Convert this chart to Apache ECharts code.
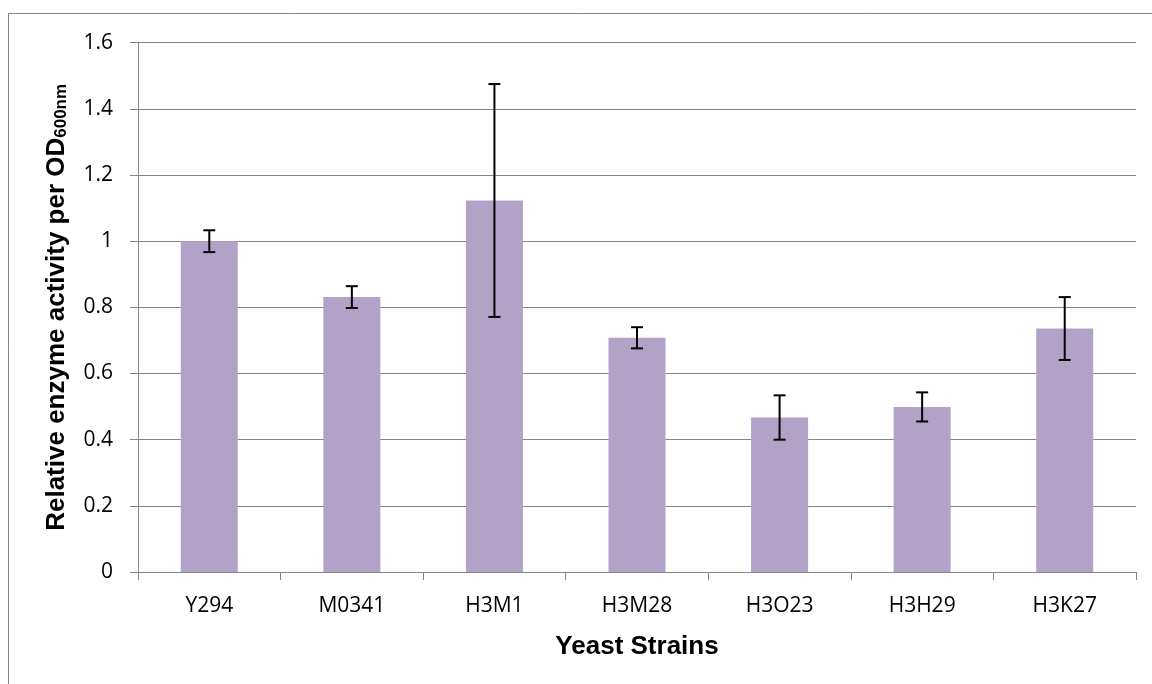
<!DOCTYPE html>
<html>
<head>
<meta charset="utf-8">
<script src="https://cdn.jsdelivr.net/npm/echarts@6/dist/echarts.min.js"></script>
<style>
html,body{margin:0;padding:0;background:#fff;}
#chart{width:1152px;height:684px;}
</style>
</head>
<body>
<div id="chart"></div>
<script>
var categories = ['Y294', 'M0341', 'H3M1', 'H3M28', 'H3O23', 'H3H29', 'H3K27'];
var activity = [1.00, 0.831, 1.123, 0.708, 0.467, 0.499, 0.736];
var errorAmount = [0.033, 0.033, 0.352, 0.032, 0.067, 0.044, 0.095];
var yTicks = [0, 0.2, 0.4, 0.6, 0.8, 1, 1.2, 1.4, 1.6];

var errorData = categories.map(function (c, i) {
  return [i, activity[i] - errorAmount[i], activity[i] + errorAmount[i]];
});

var chart = echarts.init(document.getElementById('chart'), null, {renderer: 'canvas'});
var axisGray = '#868686';
var tickFont = '"Open Sans", "Liberation Sans", sans-serif';
var titleFont = '"Liberation Sans", Arial, sans-serif';

chart.setOption({
  animation: false,
  backgroundColor: '#ffffff',
  graphic: [{
    type: 'rect',
    shape: {x: 8.5, y: 13.5, width: 1200, height: 700},
    style: {fill: 'none', stroke: axisGray, lineWidth: 1},
    silent: true,
    z: -1
  }],
  grid: {left: 138, right: 16, top: 42.7, bottom: 112, containLabel: false},
  xAxis: {
    type: 'category',
    data: categories,
    name: 'Yeast Strains',
    nameLocation: 'middle',
    nameGap: 62,
    nameTextStyle: {fontFamily: titleFont, fontWeight: 'bold', fontSize: 26, color: '#000'},
    axisLine: {lineStyle: {color: axisGray, width: 1}},
    axisTick: {show: true, length: 8, lineStyle: {color: axisGray}},
    axisLabel: {fontFamily: tickFont, fontSize: 21, color: '#000', margin: 24}
  },
  yAxis: {
    type: 'value',
    min: 0,
    max: 1.6,
    interval: 0.2,
    name: '{main|Relative enzyme activity per OD}{sub|600nm}',
    nameLocation: 'middle',
    nameRotate: 90,
    nameGap: 68,
    nameTextStyle: {
      fontFamily: titleFont, fontWeight: 'bold', fontSize: 26, color: '#000',
      rich: {
        main: {fontFamily: titleFont, fontWeight: 'bold', fontSize: 26, color: '#000'},
        sub: {fontFamily: titleFont, fontWeight: 'bold', fontSize: 17, color: '#000', padding: [10, 0, 0, 0]}
      }
    },
    axisLine: {show: true, lineStyle: {color: axisGray, width: 1}},
    axisTick: {show: true, length: 8, lineStyle: {color: axisGray}},
    axisLabel: {
      fontFamily: tickFont, fontSize: 21, color: '#000', margin: 25,
      formatter: function (v) {
        var idx = yTicks.indexOf(Math.round(v * 10) / 10);
        return idx >= 0 ? String(yTicks[idx]) : '';
      }
    },
    splitLine: {show: true, lineStyle: {color: axisGray, width: 1}}
  },
  series: [{
    type: 'bar',
    data: activity,
    barWidth: '40%',
    itemStyle: {color: '#B3A2C7'},
    z: 2
  }, {
    type: 'custom',
    data: errorData,
    z: 5,
    renderItem: function (params, api) {
      var x = api.value(0);
      var lo = api.coord([x, api.value(1)]);
      var hi = api.coord([x, api.value(2)]);
      var half = 6;
      var st = {stroke: '#000', lineWidth: 2};
      return {
        type: 'group',
        children: [
          {type: 'line', shape: {x1: lo[0], y1: lo[1], x2: hi[0], y2: hi[1]}, style: st},
          {type: 'line', shape: {x1: lo[0] - half, y1: lo[1], x2: lo[0] + half, y2: lo[1]}, style: st},
          {type: 'line', shape: {x1: hi[0] - half, y1: hi[1], x2: hi[0] + half, y2: hi[1]}, style: st}
        ]
      };
    }
  }]
});
</script>
</body>
</html>
